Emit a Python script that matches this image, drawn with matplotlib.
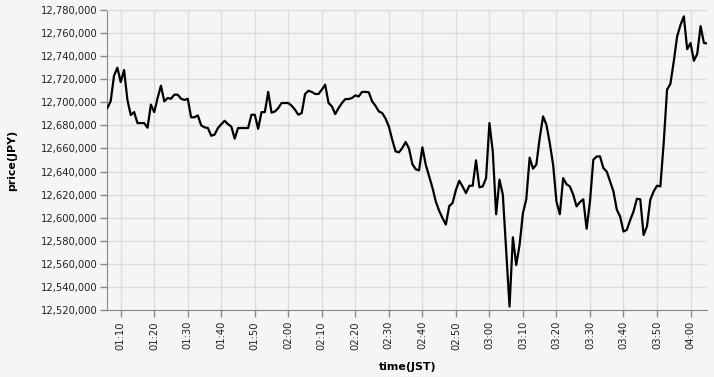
import pandas as pd
import matplotlib
matplotlib.use('Agg')
from matplotlib import pyplot as plt
import matplotlib.dates as mdates
from matplotlib.ticker import MultipleLocator, StrMethodFormatter

# one price per minute, from 01:06 to 04:05 (JST)
START = '2021-01-01 01:06'
p_0106 = [12695000, 12701000, 12723000, 12730000, 12717500, 12728000, 12702000,
          12689000, 12691500, 12682000, 12682000, 12682000, 12678000, 12698000,
          12691500, 12703700, 12714400, 12700800, 12703700, 12703100, 12706600,
          12706600, 12703100, 12702000, 12703100, 12687000, 12687000, 12688700,
          12680000, 12678300, 12677700]
p_0137 = [12671000, 12672000, 12677700, 12681000, 12684000, 12681000, 12679000,
          12668500, 12677700, 12677700, 12677700, 12677700, 12689200, 12689200,
          12677000, 12691500, 12691500, 12709000, 12691000, 12692000, 12695000,
          12699400, 12699400, 12699400, 12697000, 12693600, 12689200, 12690700,
          12707200, 12710000]
p_0207 = [12709000, 12707200, 12707200, 12711000, 12715300, 12699400, 12696500,
          12689800, 12695000, 12699400, 12702800, 12702800, 12703700, 12706000,
          12705000, 12709000, 12709000, 12708700, 12700800, 12697000, 12692100,
          12690700, 12686000, 12679000, 12667600, 12657500, 12656600, 12660400,
          12665600]
p_0236 = [12660000, 12646500, 12642000, 12641000, 12661000, 12646000, 12636000,
          12626000, 12614000, 12606000, 12599700, 12594000, 12610000, 12612700,
          12624000, 12632000, 12627000, 12621300, 12627700, 12627700, 12649700,
          12626300, 12627100, 12634300, 12682000, 12657500, 12603000, 12633000,
          12620000, 12572000]
p_0306 = [12523000, 12583000, 12559000, 12576500, 12604000, 12616000, 12652000,
          12642500, 12646000, 12669000, 12687800, 12680600, 12664700, 12646000,
          12614000, 12603000, 12634300, 12629000, 12627100, 12620000, 12609800,
          12613500, 12616000, 12590400, 12614000, 12650200, 12653100, 12653100,
          12643000, 12640000]
p_0336 = [12631500, 12622800, 12607000, 12601000, 12588000, 12589500, 12598000,
          12605500, 12616400, 12616000, 12585000, 12592500, 12615600, 12622800,
          12627700, 12627100, 12665000, 12711000, 12716000, 12735500, 12757000,
          12767000, 12774500, 12746000, 12751400, 12736000, 12742000, 12766000,
          12751400, 12751000]
prices = p_0106 + p_0137 + p_0207 + p_0236 + p_0306 + p_0336
times = pd.date_range(START, periods=len(prices), freq='min')

BG = '#f5f5f5'
GRID = '#dddddd'
DOMAIN = '#888888'

fig = plt.figure(figsize=(7.14, 3.77), dpi=100, facecolor=BG)
ax = fig.add_axes([0.1503, 0.1777, 0.8403, 0.7958], facecolor=BG)

ax.plot(times, prices, color='black', lw=1.6, zorder=3)

ax.set_xlim(times[0], times[-1])
ax.set_ylim(12520000, 12780000)
ax.yaxis.set_major_locator(MultipleLocator(20000))
ax.yaxis.set_major_formatter(StrMethodFormatter('{x:,.0f}'))
ax.xaxis.set_major_locator(mdates.MinuteLocator(byminute=range(0, 60, 10)))
ax.xaxis.set_major_formatter(mdates.DateFormatter('%H:%M'))

ax.grid(True, color=GRID, lw=1, zorder=0)
ax.set_axisbelow(True)
ax.spines['top'].set_color(GRID)
ax.spines['right'].set_visible(False)
for s in ['left', 'bottom']:
    ax.spines[s].set_color(DOMAIN)
ax.tick_params(axis='both', color=DOMAIN, length=5, width=1, labelsize=7.2,
               labelcolor='#222222', pad=2)
ax.tick_params(axis='x', labelrotation=90, pad=3)

ax.set_xlabel('time(JST)', fontsize=7.9, fontweight='bold', va='center', ha='center')
ax.xaxis.set_label_coords(0.5, -0.19)
ax.set_ylabel('price(JPY)', fontsize=7.9, fontweight='bold', va='center', ha='center')
ax.yaxis.set_label_coords(-0.158, 0.5)

plt.savefig('out.png', dpi=100, facecolor=BG)
